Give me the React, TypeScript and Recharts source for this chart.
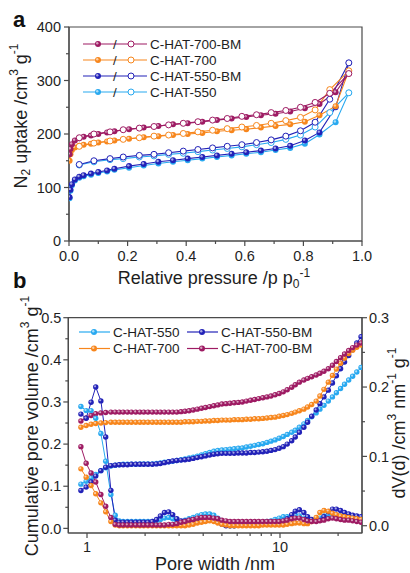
import React from "react";
import { ComposedChart, Line, XAxis, YAxis, ReferenceArea, Legend } from "recharts";

const AX = "#4a4a4a";
const TXT = "#1e1e1e";
const FONT = "'Liberation Sans', Arial, Helvetica, sans-serif";

const seriesNames = ["C-HAT-550", "C-HAT-550-BM", "C-HAT-700", "C-HAT-700-BM"];
const seriesColors = ["#28a9f0", "#2222b8", "#f7861c", "#9e1b63"];

// ---- panel a : N2 sorption isotherms ----
const adsP = [0.002, 0.005, 0.01, 0.02, 0.035, 0.05, 0.075, 0.1, 0.13, 0.155, 0.205, 0.255, 0.305,
  0.355, 0.405, 0.455, 0.505, 0.555, 0.605, 0.655, 0.705, 0.755, 0.805, 0.855, 0.91, 0.955];
const ads550 = [80, 94, 104, 113, 118, 121, 124, 127, 130, 133, 137, 141, 145, 148, 151, 154, 157,
  160, 163, 166, 170, 174, 182, 199, 222, 277];
const ads550BM = [82, 96, 106, 115, 120, 123, 126, 129, 132, 135, 140, 144, 148, 151, 154, 157, 160,
  163, 166, 169, 173, 178, 188, 203, 250, 333];
const ads700 = [150, 162, 170, 175, 178, 180, 182, 184, 186, 188, 191, 194, 196, 198, 200, 202, 205,
  207, 209, 212, 215, 218, 223, 235, 252, 318];
const ads700BM = [162, 172, 181, 188, 192, 195, 197, 200, 203, 205, 209, 212, 215, 218, 220, 223, 226,
  229, 232, 235, 238, 242, 248, 256, 278, 313];

const desP = [0.955, 0.89, 0.84, 0.79, 0.74, 0.69, 0.64, 0.59, 0.54, 0.49, 0.44, 0.39, 0.34, 0.29,
  0.24, 0.185, 0.14, 0.085, 0.035];
const des550 = [277, 240, 213, 198, 190, 184, 180, 176, 173, 170, 167, 164, 162, 159, 157, 154, 152, 148, 142];
const des550BM = [333, 265, 222, 206, 196, 189, 184, 180, 177, 174, 171, 168, 165, 162, 160, 157, 154, 150, 143];
const des700 = [318, 283, 245, 231, 225, 220, 216, 213, 210, 207, 204, 201, 198, 196, 193, 190, 187, 183, 177];
const des700BM = [313, 276, 259, 250, 244, 240, 236, 233, 229, 226, 223, 220, 217, 214, 211, 208, 204, 200, 193];

const pTicks = [0, 0.1, 0.2, 0.3, 0.4, 0.5, 0.6, 0.7, 0.8, 0.9, 1.0];
const pLabelled = [0, 0.2, 0.4, 0.6, 0.8, 1.0];
const uptakeTicks = [0, 50, 100, 150, 200, 250, 300, 350, 400];
const uptakeLabelled = [0, 100, 200, 300, 400];

// ---- panel b : pore size distribution ----
const poreWidth = [
  0.93, 0.99, 1.05, 1.11, 1.18, 1.25, 1.33, 1.40, 1.47, 1.54,
  1.62, 1.70, 1.79, 1.88, 1.97, 2.07, 2.18, 2.29, 2.40, 2.52,
  2.65, 2.78, 2.92, 3.07, 3.22, 3.38, 3.55, 3.73, 3.92, 4.11,
  4.32, 4.54, 4.76, 5.00, 5.25, 5.51, 5.79, 6.08, 6.38, 6.70,
  7.04, 7.39, 7.76, 8.15, 8.56, 8.98, 9.43, 9.90, 10.4, 10.9,
  11.5, 12.0, 12.6, 13.3, 13.9, 14.6, 15.4, 16.1, 16.9, 17.8,
  18.7, 19.6, 20.6, 21.6, 22.7, 23.8, 25.0, 26.3,
];
const cum550 = [
  0.105, 0.112, 0.120, 0.128, 0.137, 0.144, 0.148, 0.150, 0.151, 0.152,
  0.152, 0.152, 0.152, 0.153, 0.153, 0.153, 0.153, 0.154, 0.155, 0.157,
  0.158, 0.159, 0.161, 0.163, 0.165, 0.167, 0.169, 0.171, 0.174, 0.177,
  0.180, 0.183, 0.185, 0.186, 0.187, 0.188, 0.189, 0.190, 0.191, 0.193,
  0.195, 0.197, 0.199, 0.201, 0.204, 0.207, 0.210, 0.214, 0.218, 0.223,
  0.228, 0.233, 0.240, 0.248, 0.256, 0.265, 0.274, 0.283, 0.292, 0.302,
  0.312, 0.322, 0.332, 0.342, 0.352, 0.361, 0.371, 0.382,
];
const cum550BM = [
  0.090, 0.098, 0.110, 0.124, 0.137, 0.145, 0.149, 0.150, 0.151, 0.151,
  0.151, 0.152, 0.152, 0.152, 0.152, 0.152, 0.152, 0.153, 0.154, 0.156,
  0.158, 0.160, 0.161, 0.162, 0.163, 0.164, 0.166, 0.168, 0.170, 0.172,
  0.174, 0.176, 0.177, 0.178, 0.178, 0.178, 0.178, 0.179, 0.179, 0.179,
  0.180, 0.180, 0.181, 0.182, 0.183, 0.185, 0.187, 0.190, 0.194, 0.200,
  0.208, 0.217, 0.228, 0.240, 0.252, 0.266, 0.281, 0.296, 0.312, 0.328,
  0.345, 0.362, 0.379, 0.395, 0.410, 0.424, 0.440, 0.455,
];
const cum700 = [
  0.240, 0.244, 0.247, 0.249, 0.250, 0.251, 0.252, 0.252, 0.252, 0.252,
  0.252, 0.252, 0.252, 0.252, 0.252, 0.252, 0.252, 0.252, 0.252, 0.252,
  0.252, 0.252, 0.252, 0.252, 0.253, 0.253, 0.253, 0.254, 0.254, 0.255,
  0.255, 0.256, 0.256, 0.257, 0.257, 0.257, 0.258, 0.258, 0.258, 0.259,
  0.259, 0.260, 0.260, 0.261, 0.262, 0.263, 0.264, 0.266, 0.268, 0.270,
  0.273, 0.276, 0.279, 0.283, 0.288, 0.294, 0.302, 0.314, 0.330, 0.347,
  0.363, 0.378, 0.392, 0.404, 0.415, 0.423, 0.430, 0.435,
];
const cum700BM = [
  0.255, 0.262, 0.268, 0.272, 0.274, 0.275, 0.276, 0.276, 0.276, 0.276,
  0.276, 0.276, 0.276, 0.276, 0.276, 0.276, 0.276, 0.276, 0.276, 0.276,
  0.276, 0.276, 0.276, 0.277, 0.278, 0.279, 0.281, 0.283, 0.285, 0.287,
  0.289, 0.291, 0.293, 0.295, 0.296, 0.297, 0.298, 0.299, 0.300, 0.302,
  0.304, 0.306, 0.308, 0.310, 0.312, 0.314, 0.317, 0.320, 0.324, 0.329,
  0.335, 0.341, 0.347, 0.352, 0.356, 0.360, 0.364, 0.368, 0.373, 0.379,
  0.387, 0.396, 0.405, 0.414, 0.422, 0.429, 0.435, 0.440,
];
const psd550 = [
  0.172, 0.166, 0.166, 0.155, 0.133, 0.093, 0.045, 0.015, 0.007, 0.006,
  0.006, 0.006, 0.006, 0.006, 0.006, 0.006, 0.006, 0.007, 0.009, 0.011,
  0.012, 0.010, 0.007, 0.006, 0.008, 0.010, 0.012, 0.014, 0.016, 0.017,
  0.017, 0.015, 0.011, 0.006, 0.002, 0.000, 0.000, 0.001, 0.002, 0.003,
  0.004, 0.004, 0.005, 0.005, 0.006, 0.007, 0.009, 0.011, 0.013, 0.013,
  0.014, 0.015, 0.014, 0.011, 0.009, 0.008, 0.009, 0.011, 0.014, 0.016,
  0.016, 0.015, 0.014, 0.013, 0.012, 0.011, 0.010, 0.009,
];
const psd550BM = [
  0.161, 0.155, 0.178, 0.200, 0.180, 0.128, 0.051, 0.008, 0.005, 0.005,
  0.005, 0.005, 0.005, 0.005, 0.005, 0.005, 0.006, 0.009, 0.014, 0.019,
  0.020, 0.016, 0.010, 0.007, 0.007, 0.008, 0.009, 0.010, 0.011, 0.011,
  0.011, 0.009, 0.006, 0.002, 0.000, 0.000, 0.000, 0.001, 0.001, 0.001,
  0.001, 0.001, 0.002, 0.002, 0.002, 0.002, 0.002, 0.004, 0.006, 0.010,
  0.016, 0.021, 0.023, 0.019, 0.013, 0.009, 0.007, 0.008, 0.013, 0.020,
  0.024, 0.024, 0.022, 0.019, 0.017, 0.015, 0.014, 0.013,
];
const psd700 = [
  0.082, 0.070, 0.058, 0.046, 0.033, 0.020, 0.006, 0.001, 0.000, 0.000,
  0.000, 0.000, 0.000, 0.000, 0.000, 0.000, 0.000, 0.000, 0.000, 0.000,
  0.000, 0.000, 0.000, 0.000, 0.000, 0.001, 0.002, 0.004, 0.005, 0.006,
  0.007, 0.006, 0.004, 0.002, 0.001, 0.000, 0.000, 0.000, 0.000, 0.000,
  0.000, 0.000, 0.000, 0.001, 0.001, 0.001, 0.001, 0.001, 0.001, 0.002,
  0.003, 0.004, 0.004, 0.003, 0.003, 0.006, 0.012, 0.019, 0.022, 0.021,
  0.018, 0.016, 0.014, 0.013, 0.012, 0.011, 0.010, 0.009,
];
const psd700BM = [
  0.114, 0.090, 0.076, 0.063, 0.045, 0.028, 0.012, 0.002, 0.001, 0.001,
  0.001, 0.001, 0.001, 0.001, 0.001, 0.001, 0.001, 0.001, 0.001, 0.001,
  0.002, 0.002, 0.003, 0.005, 0.006, 0.008, 0.009, 0.011, 0.012, 0.012,
  0.012, 0.011, 0.010, 0.008, 0.007, 0.006, 0.006, 0.006, 0.006, 0.006,
  0.006, 0.006, 0.006, 0.006, 0.006, 0.006, 0.006, 0.006, 0.007, 0.008,
  0.010, 0.011, 0.011, 0.009, 0.007, 0.006, 0.006, 0.007, 0.008, 0.010,
  0.011, 0.010, 0.009, 0.008, 0.008, 0.007, 0.006, 0.005,
];

const widthTicks = [1, 2, 3, 4, 5, 6, 7, 8, 9, 10, 20];
const widthLabelled = [1, 10];
const cumTicks = [0, 0.05, 0.1, 0.15, 0.2, 0.25, 0.3, 0.35, 0.4, 0.45, 0.5];
const cumLabelled = [0, 0.1, 0.2, 0.3, 0.4, 0.5];
const psdTicks = [0, 0.05, 0.1, 0.15, 0.2, 0.25, 0.3];
const psdLabelled = [0, 0.1, 0.2, 0.3];

const adsSeries = [ads550, ads550BM, ads700, ads700BM];
const desSeries = [des550, des550BM, des700, des700BM];
const cumSeries = [cum550, cum550BM, cum700, cum700BM];
const psdSeries = [psd550, psd550BM, psd700, psd700BM];

const isoAds = adsSeries.map((vals) => adsP.map((p, i) => ({ p, v: vals[i] })));
const isoDes = desSeries.map((vals) => desP.map((p, i) => ({ p, v: vals[i] })));
const poreTable = poreWidth.map((w, i) => {
  const row: Record<string, number> = { w };
  seriesNames.forEach((_, k) => {
    row[`cum${k}`] = cumSeries[k][i];
    row[`psd${k}`] = psdSeries[k][i];
  });
  return row;
});

// shaded "ball" marker
function bead(color: string, r: number) {
  return (props: any) => {
    const { cx, cy, index } = props;
    if (cx == null || cy == null) return <g key={`n-${index}`} />;
    return (
      <g key={`b-${index}`}>
        <circle cx={cx} cy={cy} r={r} fill={color} />
        <circle cx={cx - r * 0.25} cy={cy - r * 0.25} r={r * 0.4} fill="#fff" fillOpacity={0.6} />
      </g>
    );
  };
}

type Side = "bottom" | "left" | "right";
function tickRenderer(side: Side, labelled: number[], fmt: (v: number) => string, offset: number) {
  return (props: any) => {
    const { x, y, payload, index } = props;
    const v = Number(payload.value);
    const major = labelled.some((m) => Math.abs(m - v) < 1e-6);
    const len = major ? 5 : 3;
    if (side === "bottom") {
      return (
        <g key={`t-${index}`}>
          <line x1={x} y1={y} x2={x} y2={y + len} stroke={AX} strokeWidth={1.2} />
          {major && (
            <text x={x} y={y + offset} textAnchor="middle" fontSize={14.5} fill={TXT} fontFamily={FONT}>
              {fmt(v)}
            </text>
          )}
        </g>
      );
    }
    const dir = side === "left" ? -1 : 1;
    return (
      <g key={`t-${index}`}>
        <line x1={x} y1={y} x2={x + dir * len} y2={y} stroke={AX} strokeWidth={1.2} />
        {major && (
          <text x={x + dir * offset} y={y} dy="0.36em" textAnchor={side === "left" ? "end" : "start"}
            fontSize={14.5} fill={TXT} fontFamily={FONT}>
            {fmt(v)}
          </text>
        )}
      </g>
    );
  };
}

const titleProps = { fontSize: 18, fill: TXT, fontFamily: FONT };

const TitlePressure = () => (
  <text x={214} y={284} textAnchor="middle" {...titleProps}>
    Relative pressure /p p<tspan dy={4} fontSize={12}>0</tspan>
    <tspan dy={-11} fontSize={12}>-1</tspan>
  </text>
);
const TitleUptake = () => (
  <text x={21} y={116} transform="rotate(-90 21 116)" textAnchor="middle" dominantBaseline="central" {...titleProps}>
    N<tspan dy={5} fontSize={12}>2</tspan>
    <tspan dy={-5}> uptake /cm</tspan>
    <tspan dy={-7} fontSize={12}>3</tspan>
    <tspan dy={7}> g</tspan>
    <tspan dy={-7} fontSize={12}>-1</tspan>
  </text>
);
const TitleWidth = () => (
  <text x={215} y={280} textAnchor="middle" {...titleProps}>Pore width /nm</text>
);
const TitleCum = () => (
  <text x={32} y={136} transform="rotate(-90 32 136)" textAnchor="middle" dominantBaseline="central" {...titleProps}>
    Cumulative pore volume /cm<tspan dy={-7} fontSize={12}>3</tspan>
    <tspan dy={7}> g</tspan>
    <tspan dy={-7} fontSize={12}>-1</tspan>
  </text>
);
const TitlePsd = () => (
  <text x={399} y={133} transform="rotate(-90 399 133)" textAnchor="middle" dominantBaseline="central" {...titleProps}>
    dV(d) /cm<tspan dy={-7} fontSize={12}>3</tspan>
    <tspan dy={7}> nm</tspan>
    <tspan dy={-7} fontSize={12}>-1</tspan>
    <tspan dy={7}> g</tspan>
    <tspan dy={-7} fontSize={12}>-1</tspan>
  </text>
);

const legendOrderA = [3, 2, 1, 0];
const IsoLegend = () => (
  <svg width={200} height={70} style={{ display: "block", overflow: "visible" }}>
    {legendOrderA.map((k, i) => {
      const y = 10 + i * 16;
      const c = seriesColors[k];
      return (
        <g key={k}>
          <line x1={3} y1={y} x2={67} y2={y} stroke={c} strokeWidth={1.2} />
          {bead(c, 3)({ cx: 18, cy: y, index: 0 })}
          <text x={35} y={y} dy="0.36em" textAnchor="middle" fontSize={13.5} fill={TXT} fontFamily={FONT}>/</text>
          <circle cx={51} cy={y} r={3} fill="#fff" stroke={c} strokeWidth={1} />
          <text x={70} y={y} dy="0.36em" fontSize={13.5} fill={TXT} fontFamily={FONT}>{seriesNames[k]}</text>
        </g>
      );
    })}
  </svg>
);

const PoreLegend = () => (
  <svg width={240} height={40} style={{ display: "block", overflow: "visible" }}>
    {seriesNames.map((name, k) => {
      const col = k % 2;
      const row = Math.floor(k / 2);
      const x0 = col === 0 ? 4 : 112;
      const y = 10 + row * 16.5;
      const c = seriesColors[k];
      return (
        <g key={name}>
          <line x1={x0} y1={y} x2={x0 + 31} y2={y} stroke={c} strokeWidth={1.2} />
          {bead(c, 3)({ cx: x0 + 15, cy: y, index: 0 })}
          <text x={x0 + 34} y={y} dy="0.36em" fontSize={13.5} fill={TXT} fontFamily={FONT}>{name}</text>
        </g>
      );
    })}
  </svg>
);

const fmt1 = (v: number) => v.toFixed(1);
const fmt0 = (v: number) => String(v);

export default function App() {
  return (
    <div style={{ position: "absolute", left: 0, top: 0, width: 410, height: 573, background: "#fff", fontFamily: FONT }}>
      <div style={{ position: "absolute", left: 0, top: 0 }}>
        <ComposedChart width={410} height={290} margin={{ top: 27, right: 48, bottom: 0, left: 0 }}>
          <XAxis type="number" dataKey="p" domain={[0, 1]} ticks={pTicks} interval={0} allowDataOverflow
            height={49} tickSize={0} tickMargin={0} tickLine={false}
            axisLine={{ stroke: AX, strokeWidth: 1.2 }}
            tick={tickRenderer("bottom", pLabelled, fmt1, 20)} label={TitlePressure} />
          <YAxis type="number" domain={[0, 400]} ticks={uptakeTicks} interval={0} allowDataOverflow
            width={69} tickSize={0} tickMargin={0} tickLine={false}
            axisLine={{ stroke: AX, strokeWidth: 1.2 }}
            tick={tickRenderer("left", uptakeLabelled, fmt0, 8)} label={TitleUptake} />
          <ReferenceArea x1={0} x2={1} y1={0} y2={400} fill="none" fillOpacity={0} stroke={AX} strokeWidth={1.2} />
          {seriesNames.map((name, k) => (
            <Line key={`a${k}`} data={isoAds[k]} dataKey="v" name={name} type="linear" stroke={seriesColors[k]}
              strokeWidth={1.1} dot={bead(seriesColors[k], 3)} activeDot={false} isAnimationActive={false} />
          ))}
          {seriesNames.map((name, k) => (
            <Line key={`d${k}`} data={isoDes[k]} dataKey="v" name={`${name} des`} type="linear" stroke={seriesColors[k]}
              strokeWidth={1.1} dot={{ r: 3, fill: "#fff", stroke: seriesColors[k], strokeWidth: 1 }}
              activeDot={false} isAnimationActive={false} />
          ))}
          <Legend layout="vertical" align="center" verticalAlign="middle" content={IsoLegend}
            wrapperStyle={{ left: 80, top: 34, width: 200, height: 70 }} />
        </ComposedChart>
      </div>
      <div style={{ position: "absolute", left: 0, top: 290 }}>
        <ComposedChart width={410} height={283} data={poreTable} margin={{ top: 27.7, right: 0, bottom: 0, left: 0 }}>
          <XAxis type="number" dataKey="w" scale="log" domain={[0.8, 26.6]} ticks={widthTicks} interval={0}
            allowDataOverflow height={40} tickSize={0} tickMargin={0} tickLine={false}
            axisLine={{ stroke: AX, strokeWidth: 1.2 }}
            tick={tickRenderer("bottom", widthLabelled, fmt0, 19)} label={TitleWidth} />
          <YAxis yAxisId="left" type="number" domain={[-0.011, 0.5]} ticks={cumTicks} interval={0} allowDataOverflow
            width={68.3} tickSize={0} tickMargin={0} tickLine={false}
            axisLine={{ stroke: AX, strokeWidth: 1.2 }}
            tick={tickRenderer("left", cumLabelled, fmt1, 7)} label={TitleCum} />
          <YAxis yAxisId="right" orientation="right" type="number" domain={[-0.0105, 0.3]} ticks={psdTicks}
            interval={0} allowDataOverflow width={48} tickSize={0} tickMargin={0} tickLine={false}
            axisLine={{ stroke: AX, strokeWidth: 1.2 }}
            tick={tickRenderer("right", psdLabelled, fmt1, 7)} label={TitlePsd} />
          <ReferenceArea yAxisId="left" x1={0.8} x2={26.6} y1={-0.011} y2={0.5} fill="none" fillOpacity={0}
            stroke={AX} strokeWidth={1.2} />
          {seriesNames.map((name, k) => (
            <Line key={`c${k}`} yAxisId="left" dataKey={`cum${k}`} name={name} type="linear"
              stroke={seriesColors[k]} strokeWidth={1} dot={bead(seriesColors[k], 2.7)}
              activeDot={false} isAnimationActive={false} />
          ))}
          {seriesNames.map((name, k) => (
            <Line key={`p${k}`} yAxisId="right" dataKey={`psd${k}`} name={`${name} psd`} type="linear"
              stroke={seriesColors[k]} strokeWidth={1} dot={bead(seriesColors[k], 2.7)}
              activeDot={false} isAnimationActive={false} />
          ))}
          <Legend layout="vertical" align="center" verticalAlign="middle" content={PoreLegend}
            wrapperStyle={{ left: 75, top: 32, width: 240, height: 40 }} />
        </ComposedChart>
      </div>
      <svg width={410} height={573} style={{ position: "absolute", left: 0, top: 0, pointerEvents: "none" }}>
        <text x={13} y={27} fontSize={22} fontWeight="bold" fill="#111" fontFamily={FONT}>a</text>
        <text x={13} y={288} fontSize={22} fontWeight="bold" fill="#111" fontFamily={FONT}>b</text>
      </svg>
    </div>
  );
}
